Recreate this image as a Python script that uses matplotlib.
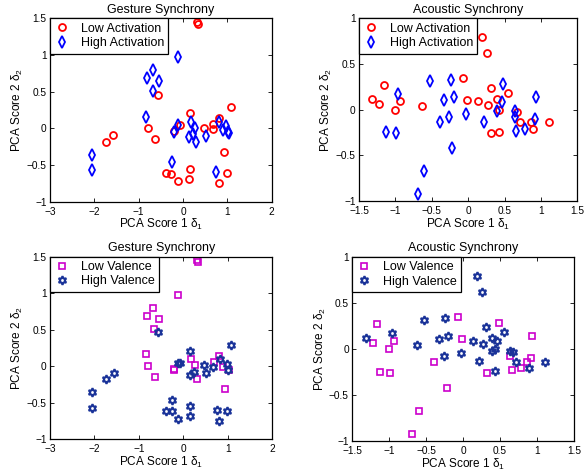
"""PCA scores of gesture and acoustic synchrony, split by activation and valence."""

import matplotlib
matplotlib.use("Agg")
import matplotlib.pyplot as plt
import numpy as np

plt.rcParams.update(
    {"font.family": ["Liberation Sans", "DejaVu Sans"], "font.size": 7,
     "mathtext.fontset": "custom", "mathtext.rm": "Liberation Sans",
     "mathtext.it": "Liberation Sans", "axes.linewidth": 0.9}
)

# ---- data: one entry per dyad -----------------------------------------
gesture_x = [0.31, 0.33, -0.57, 0.16, 1.08, 0.81, -0.79, -0.64, -0.21, -0.07,
             0.47, 0.68, 0.67, -1.57, -1.74, 0.93, 0.16, -0.38, -0.26, -0.12,
             0.14, 0.99, 0.81,
             -0.12, -0.68, -0.81, -0.55, -0.67, -0.84, -0.11, -0.20, 0.17, 0.26,
             0.23, 0.14, 0.30, 0.52, 0.82, 0.90, 0.98, 1.01, 1.03, -2.06,
             -2.06, -0.25, 0.75]
gesture_y = [1.45, 1.42, 0.46, 0.21, 0.29, 0.14, 0.00, -0.15, -0.04, 0.04,
             0.01, 0.06, -0.01, -0.09, -0.18, -0.32, -0.55, -0.61, -0.62, -0.72,
             -0.69, -0.61, -0.75,
             0.97, 0.79, 0.68, 0.65, 0.51, 0.16, 0.04, -0.05, 0.09, 0.01,
             -0.08, -0.12, -0.18, -0.10, 0.09, -0.02, 0.03, -0.05, -0.06, -0.36,
             -0.57, -0.46, -0.60]
# 1 = high, 0 = low
gesture_act = [0] * 23 + [1] * 23
gesture_val = [0, 0, 1, 1, 1, 0, 0, 0, 0, 1, 1, 0, 1, 1, 1, 0, 1, 1, 1, 1, 1, 1, 1,
               0, 0, 0, 0, 0, 0, 1, 0, 0, 0, 1, 1, 0, 1, 1, 0, 1, 1, 0, 1, 1, 1, 1]

acoustic_x = [0.19, 0.26, -0.07, -1.32, -1.22, -1.16, -1.01, -0.94, -0.63, -0.01,
              0.13, 0.31, 0.27, 0.39, 0.43, 0.55, 0.32, 0.43, 0.67, 0.71,
              0.86, 0.89, 1.11,
              -0.53, -0.24, -0.96, -0.33, -0.20, -0.39, -0.26, -0.03, 0.22, 0.48,
              0.46, 0.39, 0.64, 0.64, 0.66, 0.78, 0.92, 0.93, -1.13, -0.99,
              -0.22, -0.60, -0.69]
acoustic_y = [0.79, 0.62, 0.35, 0.12, 0.06, 0.27, 0.00, 0.09, 0.04, 0.11,
              0.09, 0.24, 0.05, 0.12, 0.00, 0.18, -0.26, -0.24, -0.03, -0.14,
              -0.14, -0.21, -0.14,
              0.31, 0.33, 0.17, 0.11, 0.14, -0.14, -0.08, -0.05, -0.13, 0.28,
              0.08, -0.02, -0.02, -0.08, -0.23, -0.21, -0.10, 0.14, -0.25, -0.26,
              -0.42, -0.67, -0.92]
acoustic_act = [0] * 23 + [1] * 23
acoustic_val = [1, 1, 0, 1, 0, 0, 0, 0, 1, 0, 1, 1, 1, 1, 1, 1, 0, 1, 1, 1, 0, 1, 1,
                1, 1, 1, 1, 1, 0, 1, 1, 1, 0, 1, 1, 1, 0, 0, 0, 0, 0, 0, 0, 0, 0, 0]

ACT_STYLE = [dict(marker="o", color="#ff0000", label="Low Activation", ms=5.0, mew=1.3),
             dict(marker="d", color="#0000ff", label="High Activation", ms=5.8, mew=1.3)]
VAL_STYLE = [dict(marker="s", color="#cc00cc", label="Low Valence", ms=4.4, mew=1.2),
             dict(marker=(6, 1, 0), color="#1a3399", label="High Valence", ms=6.2, mew=1.5)]

# axes rectangles in pixels (left, top, right, bottom) of a 587x475 figure
W, H = 587, 475
BOXES = [(50, 18.3, 271.7, 201.7), (359, 18.3, 577.3, 201),
         (50, 256.6, 272.3, 439), (352.3, 256.7, 574, 441)]


def tick_text(t):
    return f"{t:g}".replace("-", "\u2212")


def panel(ax, xs, ys, labels, styles, title, xlim, xticks, ylim, yticks):
    xs, ys, labels = np.asarray(xs), np.asarray(ys), np.asarray(labels)
    for k, st in enumerate(styles):
        m = labels == k
        ax.plot(xs[m], ys[m], ls="none", marker=st["marker"], ms=st["ms"],
                mfc="none", mec=st["color"], mew=st["mew"], label=st["label"])
    ax.set_xlim(*xlim)
    ax.set_ylim(*ylim)
    ax.set_xticks(xticks)
    ax.set_yticks(yticks)
    ax.set_xticklabels([tick_text(t) for t in xticks])
    ax.set_yticklabels([tick_text(t) for t in yticks])
    ax.tick_params(direction="in", length=3, width=0.6, top=True, right=True,
                   labelsize=7.3)
    ax.tick_params(axis="x", pad=3.5)
    ax.tick_params(axis="y", pad=2.5)
    ax.set_title(title, fontsize=9, pad=4)
    ax.set_xlabel(r"PCA Score 1 $\delta_1$", fontsize=8.5, labelpad=0.5)
    ax.set_ylabel(r"PCA Score 2 $\delta_2$", fontsize=8.5, labelpad=1)
    leg = ax.legend(loc="upper left", borderaxespad=0, fancybox=False,
                    edgecolor="black", framealpha=1, fontsize=9,
                    handlelength=1.2, handletextpad=0.9, borderpad=0.35,
                    labelspacing=0.2)
    leg.get_frame().set_linewidth(0.9)


def main() -> None:
    fig = plt.figure(figsize=(W / 100, H / 100), dpi=100)
    axes = [fig.add_axes([l / W, 1 - b / H, (r - l) / W, (b - t) / H])
            for l, t, r, b in BOXES]

    g_lim, g_xt = (-3, 2), [-3, -2, -1, 0, 1, 2]
    g_ylim, g_yt = (-1, 1.5), [-1, -0.5, 0, 0.5, 1, 1.5]
    a_lim, a_xt = (-1.5, 1.5), [-1.5, -1, -0.5, 0, 0.5, 1, 1.5]
    a_ylim, a_yt = (-1, 1), [-1, -0.5, 0, 0.5, 1]

    panel(axes[0], gesture_x, gesture_y, gesture_act, ACT_STYLE,
          "Gesture Synchrony", g_lim, g_xt, g_ylim, g_yt)
    panel(axes[1], acoustic_x, acoustic_y, acoustic_act, ACT_STYLE,
          "Acoustic Synchrony", a_lim, a_xt, a_ylim, a_yt)
    panel(axes[2], gesture_x, gesture_y, gesture_val, VAL_STYLE,
          "Gesture Synchrony", g_lim, g_xt, g_ylim, g_yt)
    panel(axes[3], acoustic_x, acoustic_y, acoustic_val, VAL_STYLE,
          "Acoustic Synchrony", a_lim, a_xt, a_ylim, a_yt)

    fig.savefig("out.png", dpi=100)


if __name__ == "__main__":
    main()
